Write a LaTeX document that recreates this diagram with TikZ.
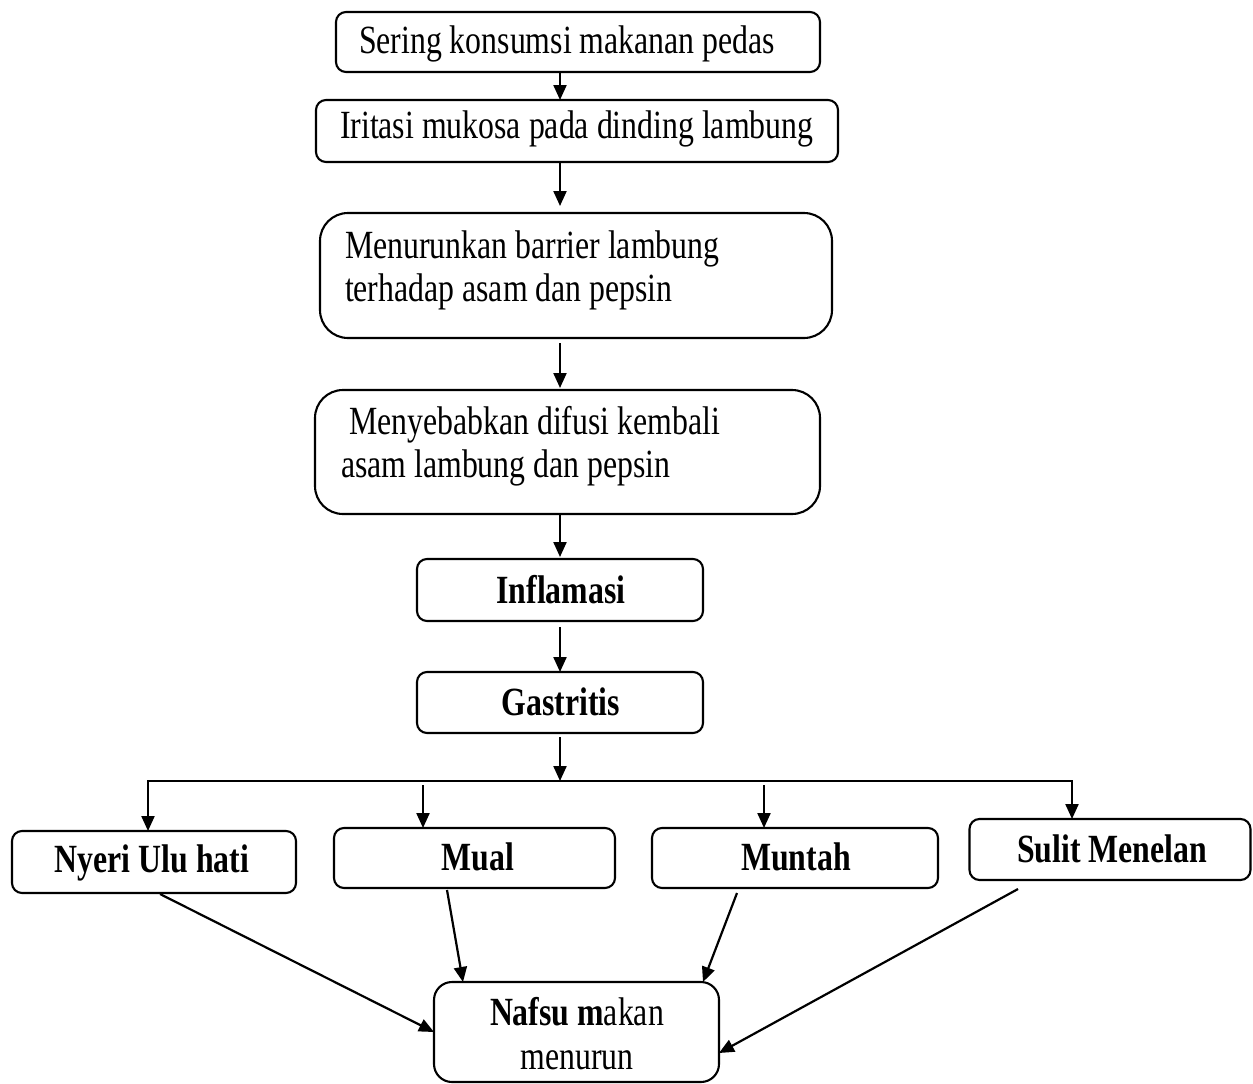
\documentclass[tikz,border=0pt]{standalone}
\usepackage{fontspec}
\setmainfont{Liberation Serif}[FakeStretch=0.795]
\usetikzlibrary{arrows.meta}
\tikzset{
  box/.style={draw, line width=2.1pt, rounded corners=10pt, inner sep=0pt, outer sep=0pt},
  bigbox/.style={box, rounded corners=28pt},
  txt/.style={inner sep=0pt, outer sep=0pt, font=\fontsize{40}{48}\selectfont},
  btxt/.style={txt, font=\fontsize{40}{48}\selectfont\bfseries},
  conn/.style={line width=2.2pt, -{Triangle[length=15pt,width=13pt]}},
}
\begin{document}
\begin{tikzpicture}[x=1pt,y=-1pt]
\useasboundingbox (0,0) rectangle (1253,1084);
% boxes
\node[box, minimum width=484pt, minimum height=60pt] (b1) at (578,42) {};
\node[box, minimum width=522pt, minimum height=62pt] (b2) at (577,131) {};
\node[bigbox, minimum width=512pt, minimum height=125pt] (b3) at (576,275.5) {};
\node[bigbox, minimum width=505pt, minimum height=124pt] (b4) at (567.5,452) {};
\node[box, minimum width=286pt, minimum height=62pt] (b5) at (560,590) {};
\node[box, minimum width=286pt, minimum height=61pt] (b6) at (560,702.5) {};
\node[box, minimum width=284pt, minimum height=62pt] (b7) at (154,862) {};
\node[box, minimum width=281pt, minimum height=60pt] (b8) at (474.5,858) {};
\node[box, minimum width=286pt, minimum height=60pt] (b9) at (795,858) {};
\node[box, minimum width=281pt, minimum height=61pt] (b10) at (1110,849.5) {};
\node[box, rounded corners=18pt, minimum width=285pt, minimum height=100pt] (b11) at (576.5,1032) {};
% texts
\node[txt, anchor=base west] (t1) at (359,53) {Sering konsumsi makanan pedas};
\node[txt, anchor=base west] (t2) at (340,138) {Iritasi mukosa pada dinding lambung};
\node[txt, anchor=base west] (t3a) at (345,258) {Menurunkan barrier lambung};
\node[txt, anchor=base west] (t3b) at (345,301) {terhadap asam dan pepsin};
\node[txt, anchor=base west] (t4a) at (349,434) {Menyebabkan difusi kembali};
\node[txt, anchor=base west] (t4b) at (341,477) {asam lambung dan pepsin};
\node[btxt, anchor=base] (t5) at (561,603) {Inflamasi};
\node[btxt, anchor=base] (t6) at (561,715) {Gastritis};
\node[btxt, anchor=base] (t7) at (152,872) {Nyeri Ulu hati};
\node[btxt, anchor=base] (t8) at (478,870) {Mual};
\node[btxt, anchor=base] (t9) at (796,870) {Muntah};
\node[btxt, anchor=base] (t10) at (1112,862) {Sulit Menelan};
\node[txt, anchor=base] (t11) at (577,1025) {\textbf{Nafsu m}akan};
\node[txt, anchor=base] (t12) at (577,1069) {menurun};
% spine
\coordinate (sp) at (560,0);
\coordinate (fork) at (560,781);
\coordinate (fl) at (148,781);
\coordinate (fr) at (1072,781);
\coordinate (d2) at (423,781);
\coordinate (d3) at (764,781);
\draw[conn] (b1.south -| sp) -- (b2.north -| sp);
\draw[conn, shorten >=7pt] (b2.south -| sp) -- (b3.north -| sp);
\draw[conn, shorten <=5pt, shorten >=2pt] (b3.south -| sp) -- (b4.north -| sp);
\draw[conn, shorten >=2pt] (b4.south -| sp) -- (b5.north -| sp);
\draw[conn, shorten <=6pt] (b5.south -| sp) -- (b6.north -| sp);
\draw[conn, shorten <=4pt] (b6.south -| sp) -- (fork);
\draw[line width=2.2pt, {Triangle[length=15pt,width=13pt]}-{Triangle[length=15pt,width=13pt]}]
  (fl |- b7.north) -- (fl) -- (fr) -- (fr |- b10.north);
\draw[conn, shorten <=4pt] (d2) -- (d2 |- b8.north);
\draw[conn, shorten <=4pt] (d3) -- (d3 |- b9.north);
% to bottom box
\draw[conn] ([xshift=6pt,yshift=-1pt]b7.south) -- (b11.west);
\draw[conn] ([xshift=-27.5pt,yshift=-2pt]b8.south) -- ([xshift=-113.5pt]b11.north);
\draw[conn] ([xshift=-58pt,yshift=-5pt]b9.south) -- ([xshift=126.5pt]b11.north);
\draw[conn] ([xshift=-92pt,yshift=-9pt]b10.south) -- ([yshift=-21pt]b11.east);
\end{tikzpicture}
\end{document}
